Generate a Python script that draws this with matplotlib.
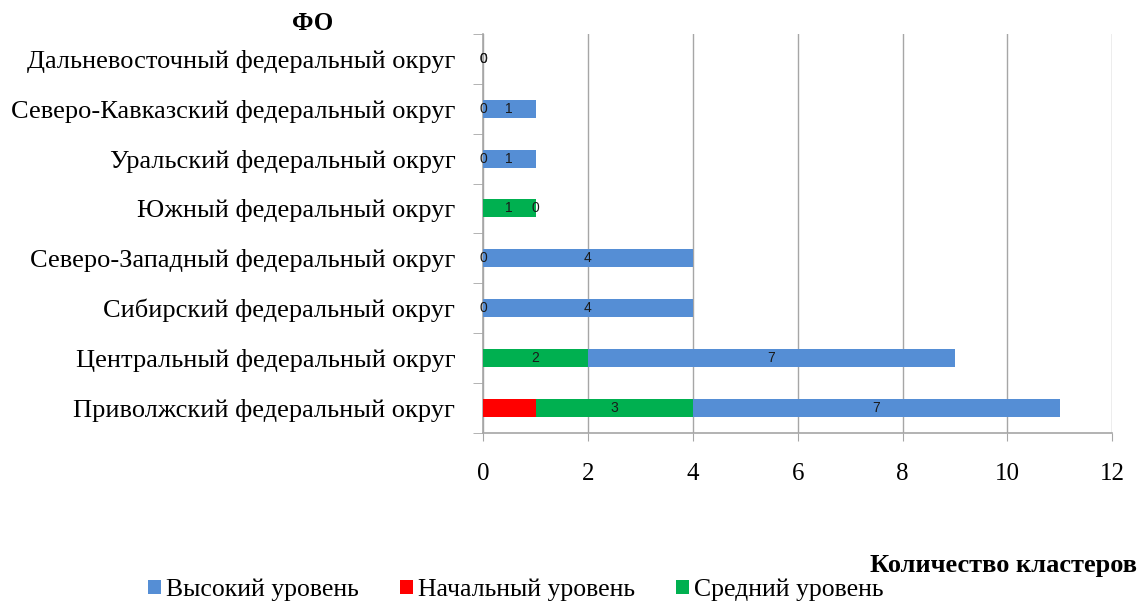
import matplotlib
matplotlib.use("Agg")
import matplotlib.pyplot as plt
import numpy as np

# federal districts, bottom to top
districts = ["Приволжский федеральный округ", "Центральный федеральный округ",
             "Сибирский федеральный округ", "Северо-Западный федеральный округ",
             "Южный федеральный округ", "Уральский федеральный округ",
             "Северо-Кавказский федеральный округ", "Дальневосточный федеральный округ"]
low = [1, 0, 0, 0, 0, 0, 0, 0]     # Начальный уровень
mid = [3, 2, 0, 0, 1, 0, 0, 0]     # Средний уровень
high = [7, 7, 4, 4, 0, 1, 1, 0]    # Высокий уровень
xticks = [0, 2, 4, 6, 8, 10, 12]

plt.rcParams['font.family'] = ['Liberation Serif', 'DejaVu Serif']

fig, ax = plt.subplots(figsize=(11.42, 6.07), dpi=100)
fig.subplots_adjust(left=0.423, right=0.974, top=0.944, bottom=0.287)

y = np.arange(len(districts))
h = 0.36
low = np.array(low)
mid = np.array(mid)
high = np.array(high)

b_low = ax.barh(y, low, h, color="#ff0000", label="Начальный уровень", zorder=3)
b_mid = ax.barh(y, mid, h, left=low, color="#00b050", label="Средний уровень", zorder=3)
b_high = ax.barh(y, high, h, left=low + mid, color="#558ed5", label="Высокий уровень", zorder=3)

for bars in (b_mid, b_high):
    ax.bar_label(bars, labels=[str(v) for v in bars.datavalues], label_type="center",
                 fontsize=10, family="Liberation Sans", color="#1a1a1a", zorder=4)

ax.set_xlim(0, 12)
ax.set_ylim(-0.5, len(districts) - 0.5)
ax.set_xticks(xticks)
ax.set_xticklabels([str(t) for t in xticks], fontsize=18)
ax.tick_params(axis="x", length=6, color="#a6a6a6", pad=16)
ax.set_yticks(y)
ax.set_yticklabels(districts, fontsize=19)
ax.tick_params(axis="y", length=0, pad=20)
# minor ticks between categories
ax.set_yticks(np.arange(-0.5, len(districts), 1.0), minor=True)
ax.tick_params(axis="y", which="minor", length=7, color="#a6a6a6")

ax.grid(axis="x", color="#a6a6a6", linewidth=1, zorder=0)
for s in ("top", "right"):
    ax.spines[s].set_visible(False)
for s in ("left", "bottom"):
    ax.spines[s].set_color("#a6a6a6")
    ax.spines[s].set_linewidth(1.2)

fig.text(0.274, 0.962, "ФО", fontsize=18, fontweight="bold", ha="center", va="center")
fig.text(0.996, 0.069, "Количество кластеров", fontsize=19, fontweight="bold",
         ha="right", va="center")

handles = [b_high, b_low, b_mid]
ax.legend(handles, [hh.get_label() for hh in handles], loc="center",
          bbox_to_anchor=(0.452, 0.028), bbox_transform=fig.transFigure, ncol=3,
          frameon=False, fontsize=18.5, handlelength=0.5, handleheight=0.5,
          handletextpad=0.2, columnspacing=1.6, borderpad=0.1)

fig.savefig("out.png", dpi=100)
